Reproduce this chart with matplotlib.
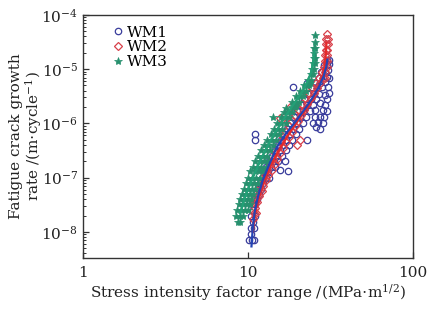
import matplotlib
matplotlib.use("Agg")
import matplotlib.pyplot as plt
from matplotlib.ticker import LogLocator, FixedLocator, NullLocator, FixedFormatter, NullFormatter

plt.rcParams['font.family'] = ['DejaVu Serif']
plt.rcParams['mathtext.fontset'] = 'dejavuserif'

# ---- data: (delta K, da/dN) pairs ----
wm1 = [(10.2, 7e-9), (10.6, 7e-9), (10.9, 7e-9), (10.5, 9e-9), (10.4, 1.2e-8), (10.9, 1.2e-8),
       (10.7, 1.5e-8), (10.5, 2e-8), (11.0, 2e-8), (10.8, 2.5e-8), (10.6, 3.2e-8), (11.1, 3.2e-8),
       (11.0, 4e-8), (11.4, 4e-8), (11.2, 5e-8), (11.7, 5e-8), (11.5, 6.3e-8), (12.0, 6.3e-8),
       (11.8, 8e-8), (12.4, 8e-8), (12.1, 1e-7), (12.8, 1e-7), (13.5, 1e-7),
       (12.5, 1.3e-7), (13.3, 1.3e-7), (15.6, 1.4e-7), (17.5, 1.3e-7),
       (12.9, 1.6e-7), (13.8, 1.6e-7), (14.6, 1.6e-7),
       (13.4, 2e-7), (14.3, 2e-7), (15.3, 2e-7), (16.7, 2e-7),
       (13.9, 2.5e-7), (14.9, 2.5e-7), (16.0, 2.5e-7),
       (14.5, 3.2e-7), (15.6, 3.2e-7), (16.9, 3.2e-7),
       (15.1, 4e-7), (16.3, 4e-7), (17.8, 4e-7),
       (11.0, 5e-7), (15.8, 5e-7), (17.0, 5e-7), (18.6, 5e-7), (22.7, 5e-7),
       (11.1, 6.5e-7), (16.5, 6.3e-7), (17.9, 6.3e-7), (19.5, 6.3e-7),
       (17.2, 8e-7), (18.8, 8e-7), (20.5, 8e-7), (26.0, 8.5e-7), (27.5, 8e-7),
       (18.0, 1e-6), (19.7, 1e-6), (21.5, 1e-6), (24.8, 1e-6), (26.5, 1.05e-6), (28.5, 1e-6),
       (18.9, 1.3e-6), (20.7, 1.3e-6), (22.6, 1.3e-6), (25.4, 1.3e-6), (27.3, 1.3e-6), (29.0, 1.3e-6),
       (19.8, 1.7e-6), (21.7, 1.7e-6), (23.6, 1.7e-6), (25.4, 1.75e-6), (28.5, 1.8e-6), (30.0, 1.7e-6),
       (20.9, 2.2e-6), (22.8, 2.2e-6), (24.7, 2.2e-6), (27.3, 2.4e-6), (29.5, 2.2e-6),
       (22.0, 2.8e-6), (24.0, 2.8e-6), (25.9, 2.8e-6), (30.3, 2.8e-6),
       (23.2, 3.5e-6), (25.2, 3.5e-6), (27.0, 3.5e-6), (29.2, 3.3e-6), (31.0, 3.6e-6),
       (18.7, 4.7e-6), (24.5, 4.6e-6), (26.3, 4.6e-6), (28.0, 4.6e-6), (30.6, 4.6e-6),
       (22.7, 5.5e-6), (25.6, 5.5e-6), (27.3, 5.5e-6), (29.5, 5.8e-6),
       (26.8, 7e-6), (28.3, 7e-6), (30.0, 7.2e-6), (31.0, 7e-6),
       (27.8, 9e-6), (29.3, 9e-6), (30.6, 9.5e-6),
       (28.8, 1.2e-5), (30.2, 1.2e-5), (31.0, 1.25e-5), (30.0, 1.5e-5), (30.8, 1.5e-5)]

wm2 = [(10.7, 1.7e-8), (10.9, 2.2e-8), (11.2, 2.2e-8), (11.1, 2.8e-8), (11.0, 3.5e-8), (11.4, 3.5e-8),
       (11.3, 4.5e-8), (11.7, 4.5e-8), (11.6, 5.6e-8), (12.1, 5.6e-8), (11.9, 7e-8), (12.4, 7e-8),
       (12.3, 9e-8), (12.9, 9e-8), (12.7, 1.1e-7), (13.3, 1.1e-7), (13.1, 1.4e-7), (13.9, 1.4e-7),
       (13.6, 1.8e-7), (14.5, 1.8e-7), (14.1, 2.2e-7), (15.0, 2.2e-7), (14.6, 2.8e-7), (15.6, 2.8e-7),
       (15.2, 3.5e-7), (16.3, 3.5e-7), (19.7, 4e-7), (15.8, 4.5e-7), (17.0, 4.5e-7), (20.6, 5e-7),
       (16.4, 5.6e-7), (17.7, 5.6e-7), (17.1, 7e-7), (18.5, 7e-7), (17.8, 9e-7), (19.3, 9e-7),
       (18.6, 1.1e-6), (20.1, 1.1e-6), (15.6, 1.25e-6), (16.5, 1.3e-6), (19.4, 1.4e-6), (21.0, 1.4e-6),
       (20.3, 1.8e-6), (21.9, 1.8e-6), (18.0, 2.0e-6), (21.2, 2.3e-6), (22.9, 2.3e-6),
       (22.2, 2.9e-6), (24.0, 2.9e-6), (23.3, 3.6e-6), (25.1, 3.6e-6), (24.5, 4.5e-6), (26.2, 4.5e-6),
       (25.7, 5.6e-6), (27.3, 5.6e-6), (27.0, 7e-6), (28.4, 7e-6), (29.5, 7e-6), (28.2, 9e-6),
       (29.3, 9e-6), (28.8, 1.1e-5), (30.0, 1.1e-5), (29.3, 1.4e-5), (30.3, 1.4e-5), (29.5, 1.8e-5),
       (30.2, 1.8e-5), (29.6, 2.3e-5), (30.3, 2.3e-5), (29.8, 2.9e-5), (30.4, 2.9e-5), (29.9, 3.6e-5),
       (30.5, 3.6e-5), (30.1, 4.4e-5)]

wm3 = [(8.7, 1.5e-8), (9.0, 1.5e-8), (8.5, 2e-8), (8.9, 2e-8), (9.3, 2e-8),
       (8.6, 2.5e-8), (9.1, 2.5e-8), (9.6, 2.5e-8), (10.0, 2.5e-8),
       (8.8, 3.2e-8), (9.3, 3.2e-8), (9.8, 3.2e-8), (10.3, 3.2e-8),
       (9.0, 4e-8), (9.5, 4e-8), (10.0, 4e-8), (10.5, 4e-8),
       (9.2, 5e-8), (9.7, 5e-8), (10.3, 5e-8), (10.8, 5e-8),
       (9.4, 6.3e-8), (10.0, 6.3e-8), (10.6, 6.3e-8), (11.1, 6.3e-8),
       (9.7, 8e-8), (10.3, 8e-8), (10.9, 8e-8), (11.5, 8e-8),
       (10.0, 1e-7), (10.6, 1e-7), (11.2, 1e-7), (11.9, 1e-7),
       (10.3, 1.3e-7), (11.0, 1.3e-7), (11.6, 1.3e-7), (12.3, 1.3e-7),
       (10.7, 1.6e-7), (11.4, 1.6e-7), (12.0, 1.6e-7), (12.8, 1.6e-7),
       (11.1, 2e-7), (11.8, 2e-7), (12.5, 2e-7), (13.3, 2e-7),
       (11.5, 2.5e-7), (12.3, 2.5e-7), (13.0, 2.5e-7),
       (12.0, 3.2e-7), (12.8, 3.2e-7), (13.6, 3.2e-7),
       (12.5, 4e-7), (13.3, 4e-7), (14.2, 4e-7),
       (13.1, 5e-7), (13.9, 5e-7), (14.8, 5e-7),
       (13.7, 6.3e-7), (14.5, 6.3e-7), (15.4, 6.3e-7),
       (14.3, 8e-7), (15.2, 8e-7), (16.1, 8e-7),
       (15.0, 1e-6), (15.9, 1e-6), (16.9, 1e-6),
       (14.1, 1.3e-6), (15.8, 1.3e-6), (16.7, 1.3e-6), (17.7, 1.3e-6),
       (16.6, 1.6e-6), (17.6, 1.6e-6), (18.6, 1.6e-6),
       (17.1, 1.9e-6), (18.5, 2e-6), (19.3, 2e-6), (19.6, 2.1e-6),
       (18.5, 2.5e-6), (19.5, 2.5e-6), (20.5, 2.5e-6),
       (19.6, 3.2e-6), (20.6, 3.2e-6), (21.5, 3.2e-6),
       (20.7, 4e-6), (21.7, 4e-6), (22.5, 4e-6),
       (22.0, 5e-6), (22.8, 5e-6), (23.5, 5e-6), (23.7, 5.6e-6),
       (23.2, 6.3e-6), (24.0, 6.3e-6), (24.0, 8e-6), (24.7, 8e-6),
       (24.5, 1e-5), (25.1, 1e-5), (24.9, 1.3e-5), (25.4, 1.3e-5),
       (25.0, 1.6e-5), (25.5, 1.6e-5), (25.2, 2e-5), (25.3, 2.5e-5), (25.6, 2.5e-5),
       (25.4, 3.2e-5), (25.5, 4.3e-5)]

# fitted curves
fit1_x = [10.5, 10.7, 11.0, 11.5, 12.3, 13.5, 15.0, 17.0, 19.5, 22.0, 24.5, 27.0, 28.8, 29.8, 30.3]
fit1_y = [5.4e-9, 1.2e-8, 2.4e-8, 4.5e-8, 9.0e-8, 1.8e-7, 3.7e-7, 6.5e-7, 1.1e-6, 1.8e-6, 2.9e-6,
          4.8e-6, 7.5e-6, 1.1e-5, 1.5e-5]
fit2_x = [10.7, 11.0, 11.5, 12.3, 13.5, 15.2, 17.5, 20.0, 22.5, 25.0, 27.0, 28.5, 29.3, 29.7, 29.9]
fit2_y = [1.0e-8, 2.0e-8, 3.8e-8, 7.5e-8, 1.5e-7, 3.0e-7, 6.0e-7, 1.1e-6, 1.8e-6, 3.0e-6, 5.0e-6,
          8.0e-6, 1.3e-5, 2.0e-5, 3.0e-5]
fit3_x = [9.0, 9.5, 10.2, 11.0, 12.0, 13.5, 15.5, 17.5, 19.5, 21.5, 23.0, 24.2, 24.9, 25.3]
fit3_y = [2.2e-8, 4.0e-8, 7.0e-8, 1.2e-7, 2.2e-7, 4.5e-7, 9.0e-7, 1.6e-6, 2.6e-6, 4.0e-6, 6.0e-6,
          9.0e-6, 1.4e-5, 2.2e-5]

labels = ['WM1', 'WM2', 'WM3']
x_ticks = [1, 10, 100]
x_ticklabels = ['1', '10', '100']

# ---- figure ----
fig = plt.figure(figsize=(4.32, 3.10), dpi=100)
ax = fig.add_axes([0.192, 0.168, 0.764, 0.784])

c1, c2, c3 = '#3a3d9c', '#d8404a', '#27906e'
l1, l2, l3 = '#2444b4', '#e52a2a', '#22a076'

w1x, w1y = zip(*wm1)
w2x, w2y = zip(*wm2)
w3x, w3y = zip(*wm3)

ax.plot(w1x, w1y, linestyle='none', marker='o', ms=4.6, mfc='none', mec=c1, mew=0.9, label=labels[0])
ax.plot(w2x, w2y, linestyle='none', marker='D', ms=3.8, mfc='none', mec=c2, mew=0.9, label=labels[1])
ax.plot(w3x, w3y, linestyle='none', marker='*', ms=6.0, mfc=c3, mec=c3, mew=0.5, label=labels[2])

ax.plot(fit3_x, fit3_y, color=l3, lw=1.6)
ax.plot(fit2_x, fit2_y, color=l2, lw=1.6)
ax.plot(fit1_x, fit1_y, color=l1, lw=1.6)

ax.set_xscale('log')
ax.set_yscale('log')
ax.set_xlim(1, 100)
ax.set_ylim(10 ** -8.48, 1e-4)

ax.xaxis.set_major_locator(FixedLocator(x_ticks))
ax.xaxis.set_major_formatter(FixedFormatter(x_ticklabels))
ax.xaxis.set_minor_locator(NullLocator())
ax.yaxis.set_major_locator(LogLocator(base=10, numticks=10))
ax.yaxis.set_minor_locator(LogLocator(base=10, subs=range(2, 10), numticks=20))
ax.yaxis.set_minor_formatter(NullFormatter())

ax.tick_params(axis='both', which='both', direction='in', top=False, right=False,
               labelsize=11, colors='#333333', labelcolor='#222222')
ax.tick_params(axis='both', which='major', length=4, width=0.9)
ax.tick_params(axis='y', which='minor', length=2.2, width=0.7)
ax.tick_params(axis='x', which='major', pad=6)

for s in ax.spines.values():
    s.set_linewidth(1.0)
    s.set_color('#333333')

ax.set_xlabel('Stress intensity factor range /(MPa$\\cdot$m$^{1/2}$)', fontsize=11, labelpad=1, color='#222222')
ax.set_ylabel('Fatigue crack growth\nrate /(m$\\cdot$cycle$^{-1}$)', fontsize=11, labelpad=-2,
              color='#222222', linespacing=1.0)

leg = ax.legend(loc='upper left', frameon=False, fontsize=11, handletextpad=0.1,
                handlelength=1.0, borderaxespad=0.3, labelspacing=0.05,
                bbox_to_anchor=(0.05, 1.0))

fig.savefig('out.png', dpi=100)
